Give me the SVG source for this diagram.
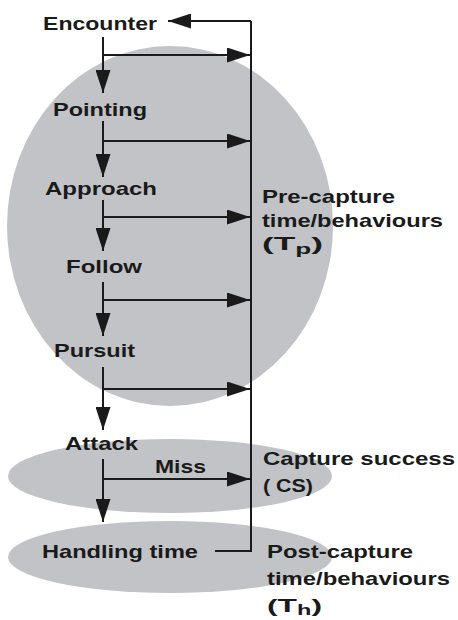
<svg xmlns="http://www.w3.org/2000/svg" width="458" height="620" viewBox="0 0 458 620">
<style>
.t{font-family:"Liberation Sans",Arial,sans-serif;font-weight:bold;font-size:19px;fill:#1a1a1a}
.s{font-size:14px}
.bg{fill:#c2c3c6}
.ln{stroke:#1a1a1a;stroke-width:2;fill:none}
</style>
<defs>
<marker id="ah" markerWidth="23" markerHeight="15" refX="23" refY="7.5" orient="auto" markerUnits="userSpaceOnUse">
<path d="M0,0 L23,7.5 L0,15 z" fill="#1a1a1a"/>
</marker>
</defs>
<g id="zones">
<ellipse class="bg" cx="170" cy="226" rx="163" ry="180"/>
<ellipse class="bg" cx="170" cy="476" rx="162" ry="37"/>
<ellipse class="bg" cx="170" cy="557" rx="162" ry="36"/>
</g>
<g id="connectors">
<path class="ln" d="M251,21 L251,551 L215,551"/>
<path class="ln" d="M251,21 L168,21" marker-end="url(#ah)"/>
<path class="ln" d="M103,37 L103,93" marker-end="url(#ah)"/>
<path class="ln" d="M103,121 L103,177" marker-end="url(#ah)"/>
<path class="ln" d="M103,200 L103,251" marker-end="url(#ah)"/>
<path class="ln" d="M103,282 L103,336" marker-end="url(#ah)"/>
<path class="ln" d="M103,367 L103,430" marker-end="url(#ah)"/>
<path class="ln" d="M103,459 L103,522" marker-end="url(#ah)"/>
<path class="ln" d="M103,55 L250,55" marker-end="url(#ah)"/>
<path class="ln" d="M103,141 L250,141" marker-end="url(#ah)"/>
<path class="ln" d="M103,217 L250,217" marker-end="url(#ah)"/>
<path class="ln" d="M103,300 L250,300" marker-end="url(#ah)"/>
<path class="ln" d="M103,389 L250,389" marker-end="url(#ah)"/>
<path class="ln" d="M103,479 L250,479" marker-end="url(#ah)"/>
</g>
<g id="encounter"><text class="t" x="43" y="30" textLength="114" lengthAdjust="spacingAndGlyphs">Encounter</text></g>
<g id="pointing"><text class="t" x="53" y="116" textLength="94" lengthAdjust="spacingAndGlyphs">Pointing</text></g>
<g id="approach"><text class="t" x="45" y="195" textLength="112" lengthAdjust="spacingAndGlyphs">Approach</text></g>
<g id="follow"><text class="t" x="66" y="273" textLength="76" lengthAdjust="spacingAndGlyphs">Follow</text></g>
<g id="pursuit"><text class="t" x="54" y="357" textLength="81" lengthAdjust="spacingAndGlyphs">Pursuit</text></g>
<g id="attack"><text class="t" x="65" y="450" textLength="73" lengthAdjust="spacingAndGlyphs">Attack</text></g>
<g id="miss"><text class="t" x="155" y="473" textLength="51" lengthAdjust="spacingAndGlyphs">Miss</text></g>
<g id="handling"><text class="t" x="42" y="558" textLength="156" lengthAdjust="spacingAndGlyphs">Handling time</text></g>
<g id="pre-capture">
<text class="t" x="262" y="203" textLength="133" lengthAdjust="spacingAndGlyphs">Pre-capture</text>
<text class="t" x="262" y="227" textLength="181" lengthAdjust="spacingAndGlyphs">time/behaviours</text>
<text class="t" x="262" y="250" textLength="61" lengthAdjust="spacingAndGlyphs">(T<tspan class="s" dy="4">p</tspan><tspan dy="-4">)</tspan></text>
</g>
<g id="capture-success">
<text class="t" x="263" y="465" textLength="192" lengthAdjust="spacingAndGlyphs">Capture success</text>
<text class="t" x="263" y="492" textLength="50" lengthAdjust="spacingAndGlyphs">( CS)</text>
</g>
<g id="post-capture">
<text class="t" x="267" y="558" textLength="146" lengthAdjust="spacingAndGlyphs">Post-capture</text>
<text class="t" x="267" y="585" textLength="183" lengthAdjust="spacingAndGlyphs">time/behaviours</text>
<text class="t" x="267" y="612" textLength="55" lengthAdjust="spacingAndGlyphs">(T<tspan class="s" dy="3">h</tspan><tspan dy="-3">)</tspan></text>
</g>
</svg>
